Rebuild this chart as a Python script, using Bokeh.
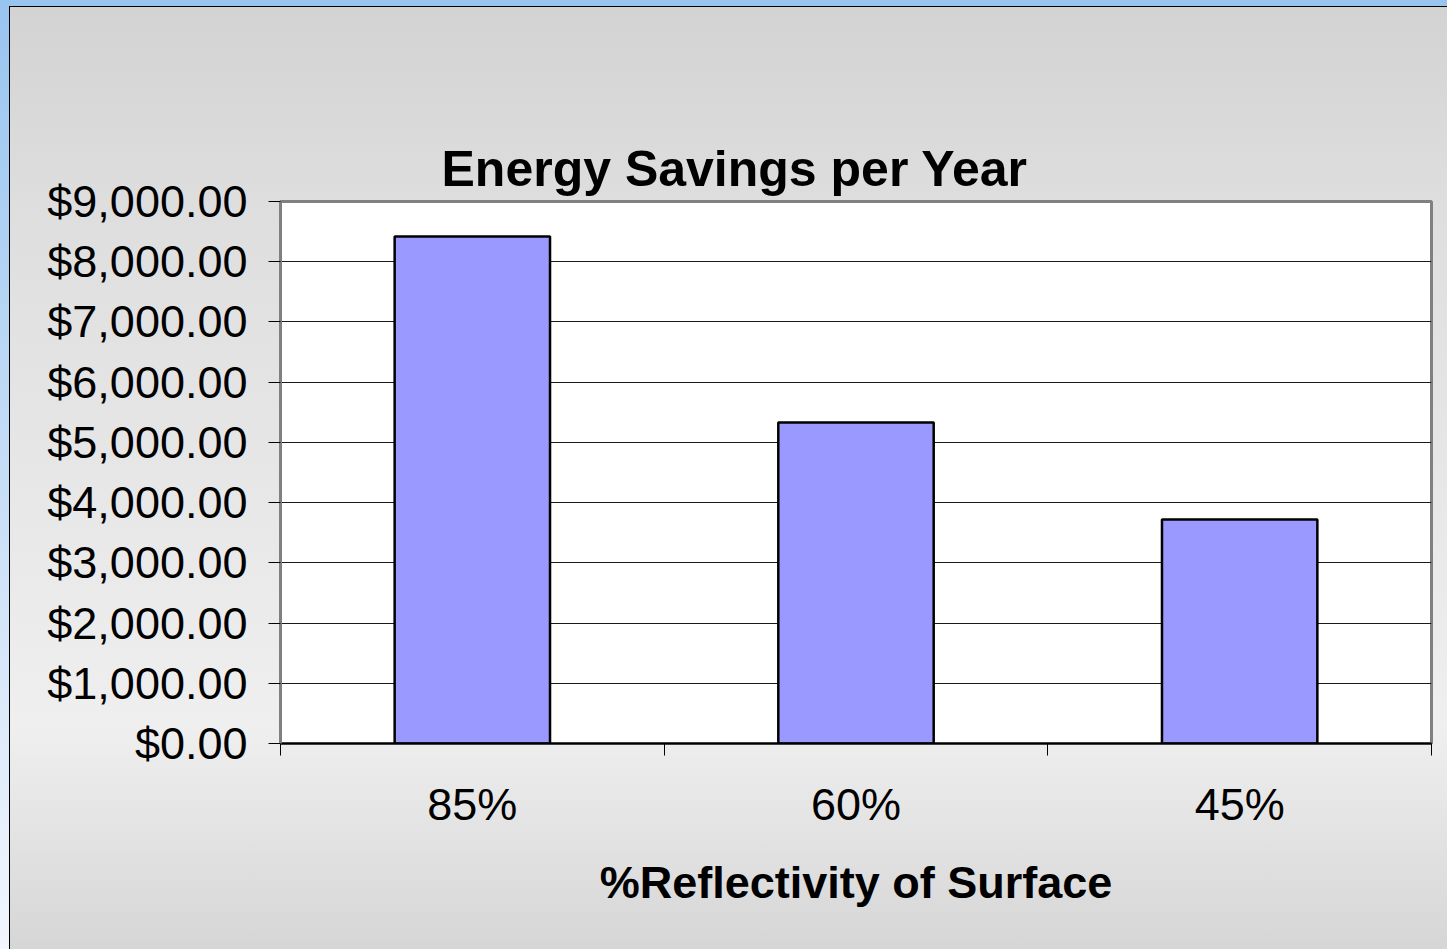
from bokeh.plotting import figure
from bokeh.models import Range1d, FixedTicker, NumeralTickFormatter, Title
from bokeh.embed import file_html
from bokeh.resources import INLINE

# ---- data ----
categories = ["85%", "60%", "45%"]
savings = [8420, 5330, 3720]
y_ticks = [0, 1000, 2000, 3000, 4000, 5000, 6000, 7000, 8000, 9000]
title_text = "Energy Savings per Year"
x_title = "%Reflectivity of Surface"

W, H = 1447, 949
FONT = "Liberation Sans"
FRAME_L, FRAME_T, FRAME_B = 280, 201, 743

xs = [i + 0.5 for i in range(len(categories))]
bounds = list(range(len(categories) + 1))

p = figure(width=W, height=H, output_backend="svg", toolbar_location=None,
           x_range=Range1d(0, len(categories)), y_range=Range1d(0, 9000),
           min_border_left=FRAME_L, min_border_right=16, min_border_top=FRAME_T,
           min_border_bottom=H - FRAME_B)
p.title.text = ""

# visible title (outer), then an invisible spacer panel next to the frame
p.add_layout(Title(text=title_text, align="left", offset=161,
                   text_font=FONT, text_font_size="50px", text_font_style="bold",
                   text_color="black", standoff=10), "above")
p.add_layout(Title(text=" ", text_font=FONT, text_font_size="50px",
                   text_alpha=0, standoff=43), "above")

p.border_fill_alpha = 0
p.background_fill_color = "white"
p.styles = {
    "background": (
        "linear-gradient(to bottom, #d3d3d3 0px, #dedede 200px, #efefef 720px, #d5d5d5 949px) "
        "10px 7px / calc(100% - 10px) calc(100% - 7px) no-repeat, "
        "linear-gradient(#000000, #000000) 9px 6px / calc(100% - 9px) calc(100% - 6px) no-repeat, "
        "linear-gradient(to bottom, #98c4f0 0px, #c4dcf6 450px, #f2f6fd 949px)"
    )
}

p.outline_line_color = "#808080"
p.outline_line_width = 3

p.vbar(x=xs, top=savings, width=0.405, bottom=0,
       fill_color="#9999FF", line_color="black", line_width=2.5)

# grid
p.xgrid.visible = False
p.ygrid.ticker = FixedTicker(ticks=y_ticks)
p.ygrid.grid_line_color = "#1a1a1a"
p.ygrid.grid_line_width = 1

# y axis
ya = p.yaxis[0]
ya.ticker = FixedTicker(ticks=y_ticks)
ya.formatter = NumeralTickFormatter(format="$0,0.00")
ya.major_label_text_font = FONT
ya.major_label_text_font_size = "45px"
ya.major_label_text_color = "black"
ya.major_tick_out = 12
ya.major_tick_in = 0
ya.major_tick_line_color = "black"
ya.minor_tick_line_color = None
ya.axis_line_color = "#808080"
ya.axis_line_width = 3
ya.major_label_standoff = 21

# x axis
xa = p.xaxis[0]
xa.ticker = FixedTicker(ticks=xs, minor_ticks=bounds)
xa.major_label_overrides = {x: c for x, c in zip(xs, categories)}
xa.major_label_text_font = FONT
xa.major_label_text_font_size = "45px"
xa.major_label_text_color = "black"
xa.major_tick_out = 0
xa.major_tick_in = 0
xa.minor_tick_out = 12
xa.minor_tick_in = 0
xa.minor_tick_line_color = "black"
xa.axis_line_color = "black"
xa.axis_line_width = 2
xa.major_label_standoff = 23
xa.axis_label = x_title
xa.axis_label_text_font = FONT
xa.axis_label_text_font_size = "45px"
xa.axis_label_text_font_style = "bold"
xa.axis_label_text_color = "black"
xa.axis_label_standoff = 24

open("out.html", "w").write(file_html(p, INLINE))
